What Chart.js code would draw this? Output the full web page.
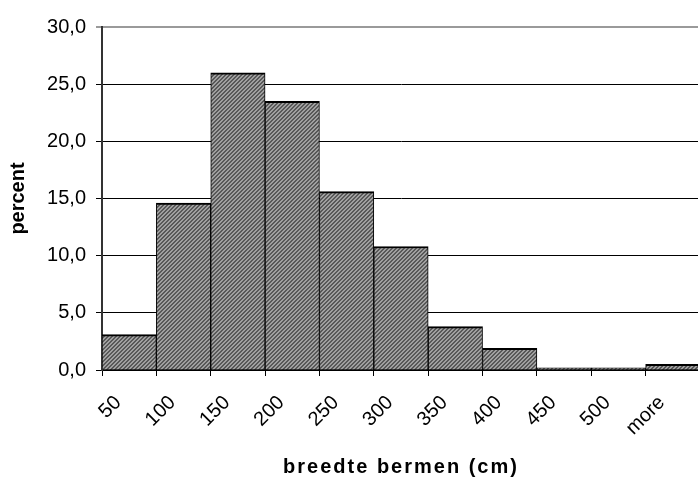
<!DOCTYPE html>
<html>
<head>
<meta charset="utf-8">
<script src="https://cdn.jsdelivr.net/npm/chart.js@4"></script>
<style>
    html, body { margin: 0; padding: 0; background: #fff; overflow: hidden; }
    #clip { width: 698px; height: 479px; overflow: hidden; }
    #wrap { width: 700px; height: 479px; position: relative; }
</style>
</head>
<body>
<div id="clip"><div id="wrap"><canvas id="histChart"></canvas></div></div>
<script>
// bins of the histogram and their share in percent
const binLabels = ['50', '100', '150', '200', '250', '300', '350', '400', '450', '500', 'more'];
const percentValues = [3.1, 14.6, 26.0, 23.5, 15.6, 10.8, 3.8, 1.9, 0.2, 0.2, 0.5];

const FONT = "'Liberation Sans', Arial, sans-serif";

// Fine diagonal hatch like the original fill
function makeHatch() {
    const c = document.createElement('canvas');
    c.width = 4;
    c.height = 4;
    const g = c.getContext('2d');
    g.fillStyle = '#a0a0a0';
    g.fillRect(0, 0, 4, 4);
    g.fillStyle = '#585858';
    for (let i = 0; i < 4; i++) {
        g.fillRect(i, 3 - i, 1, 1);
        g.fillRect((i + 1) % 4, 3 - i, 1, 1);
    }
    return g.createPattern(c, 'repeat');
}

// The x axis title in the source is spread out, so wrap drawTitle
const titleSpacing = {
    id: 'titleSpacing',
    beforeDraw(chart) {
        const scale = chart.scales.x;
        if (!scale || scale._spaced) return;
        const orig = scale.drawTitle.bind(scale);
        scale.drawTitle = function () {
            const c = chart.ctx;
            c.save();
            c.letterSpacing = '2px';
            orig();
            c.restore();
        };
        scale._spaced = true;
    }
};

const ctx = document.getElementById('histChart').getContext('2d');

const histChart = new Chart(ctx, {
    type: 'bar',
    data: {
        labels: binLabels,
        datasets: [{
            data: percentValues,
            backgroundColor: makeHatch(),
            borderColor: '#000',
            borderWidth: { top: 2, left: 1, right: 1, bottom: 0 },
            borderSkipped: 'start',
            barPercentage: 1,
            categoryPercentage: 1
        }]
    },
    options: {
        responsive: true,
        maintainAspectRatio: false,
        animation: false,
        layout: { padding: { top: 27, right: 0, bottom: 0, left: 0 } },
        plugins: {
            legend: { display: false },
            tooltip: { enabled: false }
        },
        scales: {
            x: {
                offset: true,
                grid: {
                    offset: true,
                    drawOnChartArea: false,
                    drawTicks: true,
                    tickLength: 6,
                    color: '#000',
                    lineWidth: 1
                },
                border: { display: true, color: '#000', width: 2 },
                ticks: {
                    color: '#000',
                    font: { family: FONT, size: 20 },
                    minRotation: 45,
                    maxRotation: 45,
                    padding: 15,
                    labelOffset: -11
                },
                title: {
                    display: true,
                    text: 'breedte bermen (cm)',
                    color: '#000',
                    font: { family: FONT, size: 20, weight: 'bold' },
                    padding: { top: 0, bottom: 0 }
                },
                afterFit(scale) {
                    scale.height = 109;
                    scale.paddingLeft = 0;
                    scale.paddingRight = 0;
                }
            },
            y: {
                min: 0,
                max: 30,
                grid: {
                    color: (c) => (c.tick && c.tick.value === 30 ? '#9a9a9a' : '#000'),
                    lineWidth: (c) => (c.tick && c.tick.value === 30 ? 2 : 1),
                    drawTicks: true,
                    tickLength: 6
                },
                border: { display: true, color: '#333', width: 2 },
                ticks: {
                    stepSize: 5,
                    color: '#000',
                    font: { family: FONT, size: 20 },
                    padding: 10,
                    callback: (v) => v.toFixed(1).replace('.', ',')
                },
                title: {
                    display: true,
                    text: 'percent',
                    color: '#000',
                    font: { family: FONT, size: 20, weight: 'bold' },
                    padding: { top: 6, bottom: 0 }
                },
                afterFit(scale) { scale.width = 102; }
            }
        }
    },
    plugins: [titleSpacing]
});
</script>
</body>
</html>
